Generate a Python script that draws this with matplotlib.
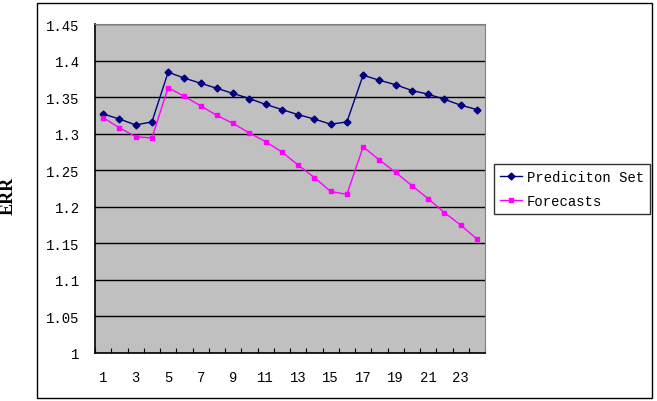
import matplotlib.pyplot as plt
from matplotlib.patches import Rectangle

# data
periods = list(range(1, 25))
prediction_set = [1.327, 1.320, 1.312, 1.316, 1.384, 1.376, 1.369, 1.362,
                  1.355, 1.348, 1.340, 1.333, 1.326, 1.320, 1.313, 1.316,
                  1.380, 1.373, 1.367, 1.359, 1.354, 1.347, 1.339, 1.333]
forecasts = [1.322, 1.308, 1.296, 1.294, 1.363, 1.351, 1.338, 1.325,
             1.314, 1.301, 1.289, 1.275, 1.257, 1.240, 1.221, 1.217,
             1.282, 1.264, 1.247, 1.229, 1.211, 1.192, 1.175, 1.156]
y_ticks = [1, 1.05, 1.1, 1.15, 1.2, 1.25, 1.3, 1.35, 1.4, 1.45]
y_labels = ['1', '1.05', '1.1', '1.15', '1.2', '1.25', '1.3', '1.35', '1.4', '1.45']
x_labels = ['1', '3', '5', '7', '9', '11', '13', '15', '17', '19', '21', '23']

W, H = 657, 402
fig = plt.figure(figsize=(W / 100, H / 100), dpi=100)

# outer chart frame
fig.patches.append(Rectangle((37 / W, 1 - 399 / H), (652 - 37) / W, (399 - 4) / H,
                             transform=fig.transFigure, fill=False,
                             edgecolor='black', linewidth=1.0))

ax = fig.add_axes([95 / W, 1 - 354 / H, (485 - 95) / W, (354 - 25) / H])
ax.set_facecolor('#C0C0C0')

ax.plot(periods, prediction_set, color='#000080', lw=1.0, marker='D',
        markersize=3.5, label='Prediciton Set')
ax.plot(periods, forecasts, color='#FF00FF', lw=1.0, marker='s',
        markersize=3.5, label='Forecasts')

ax.set_xlim(0.5, 24.5)
ax.set_ylim(1, 1.45)
ax.set_yticks(y_ticks)
ax.set_yticklabels(y_labels)
ax.yaxis.grid(True, color='black', linewidth=1.0)
ax.set_axisbelow(True)

# category labels at odd periods, ticks between categories
ax.set_xticks([0.5 + i for i in range(25)])
ax.set_xticklabels([])
ax.set_xticks(periods[::2], minor=True)
ax.set_xticklabels(x_labels, minor=True)
ax.tick_params(axis='x', which='major', direction='in', length=3.5, width=0.8)
ax.tick_params(axis='x', which='minor', length=0, pad=12)
ax.tick_params(axis='y', length=0, pad=11)
for lbl in ax.get_xticklabels(minor=True) + ax.get_yticklabels():
    lbl.set_fontfamily('Liberation Mono')
    lbl.set_fontsize(10)

for side in ['top', 'right']:
    ax.spines[side].set_color('#808080')
for side in ['left', 'bottom']:
    ax.spines[side].set_color('black')
    ax.spines[side].set_linewidth(1.2)

fig.text(8 / W, 1 - 196 / H, 'ERR', rotation=90, ha='center', va='center',
         fontfamily='Liberation Serif', fontweight='bold', fontsize=13)

leg = ax.legend(loc='upper left', bbox_to_anchor=(494 / W, 1 - 165 / H),
                bbox_transform=fig.transFigure, borderaxespad=0,
                prop={'family': 'Liberation Mono', 'size': 10},
                frameon=True, fancybox=False, handlelength=1.6,
                handletextpad=0.3, labelspacing=0.7, borderpad=0.45)
leg.get_frame().set_edgecolor('black')
leg.get_frame().set_linewidth(1.0)

plt.savefig('out.png', dpi=100)
